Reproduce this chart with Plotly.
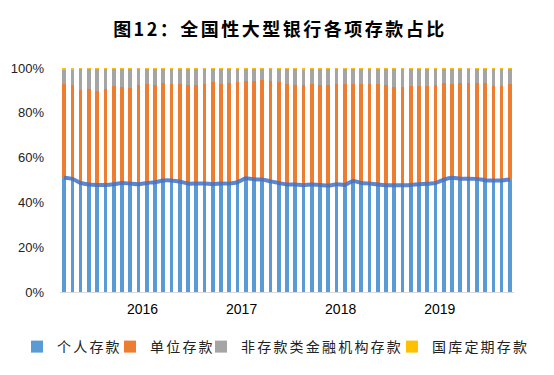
import plotly.graph_objects as go

# monthly categories (Sep 2015 – Mar 2020)
months = []
y, m = 2015, 9
for _ in range(55):
    months.append(f"{y}-{m:02d}")
    m += 1
    if m > 12:
        m = 1
        y += 1

year_labels = ["2016", "2017", "2018", "2019"]

personal = [51.0, 50.5, 48.7, 48.0, 47.8, 47.8, 48.1, 48.7, 48.4, 48.1,
            48.7, 49.0, 49.8, 49.8, 49.3, 48.4, 48.4, 48.4, 48.2, 48.4,
            48.4, 49.0, 50.8, 50.3, 50.2, 49.4, 48.7, 48.0, 48.0, 47.7,
            48.0, 47.8, 47.5, 48.1, 47.8, 49.6, 48.7, 48.4, 48.0, 47.7,
            47.7, 47.7, 47.8, 48.1, 48.3, 48.7, 50.2, 51.0, 50.6, 50.6,
            50.5, 49.9, 49.8, 49.8, 50.2]
unit = [41.8, 41.9, 41.4, 42.6, 41.9, 42.8, 43.8, 42.8, 42.6, 44.3,
        44.1, 43.4, 43.5, 43.0, 43.5, 44.0, 44.0, 44.4, 45.5, 44.4,
        44.9, 44.7, 43.4, 43.9, 44.4, 44.8, 45.0, 44.8, 44.4, 44.7,
        44.8, 44.6, 44.9, 44.7, 45.0, 43.2, 44.1, 44.4, 44.8, 44.7,
        43.9, 43.9, 44.1, 43.8, 43.6, 43.7, 43.1, 41.8, 42.7, 42.7,
        42.8, 43.4, 42.1, 42.1, 42.6]
nonbank = [6.5, 6.9, 9.6, 9.1, 10.0, 9.1, 7.8, 8.2, 8.7, 7.3,
           6.9, 7.3, 6.4, 6.9, 6.9, 7.3, 7.3, 6.9, 6.0, 6.9,
           6.4, 6.0, 5.5, 5.5, 5.1, 5.5, 6.0, 6.9, 7.3, 6.5,
           6.9, 7.3, 7.3, 6.9, 6.9, 6.9, 6.9, 6.9, 6.9, 7.3,
           8.1, 8.1, 7.8, 7.8, 7.8, 7.3, 6.4, 6.9, 6.4, 6.4,
           6.4, 6.4, 7.8, 7.8, 6.9]
treasury = [0.7, 0.7, 0.3, 0.3, 0.3, 0.3, 0.3, 0.3, 0.3, 0.3,
            0.3, 0.3, 0.3, 0.3, 0.3, 0.3, 0.3, 0.3, 0.3, 0.3,
            0.3, 0.3, 0.3, 0.3, 0.3, 0.3, 0.3, 0.3, 0.3, 1.1,
            0.3, 0.3, 0.3, 0.3, 0.3, 0.3, 0.3, 0.3, 0.3, 0.3,
            0.3, 0.3, 0.3, 0.3, 0.3, 0.3, 0.3, 0.3, 0.3, 0.3,
            0.3, 0.3, 0.3, 0.3, 0.3]

names = ["个人存款", "单位存款", "非存款类金融机构存款", "国库定期存款"]
colors = ["#5B9BD5", "#ED7D31", "#A5A5A5", "#FFC000"]
series = [personal, unit, nonbank, treasury]

x = list(range(len(months)))
tickvals = []
for yl in year_labels:
    idx = [i for i, mo in enumerate(months) if mo.startswith(yl)]
    tickvals.append(sum(idx) / len(idx))

CJK = "Noto Sans CJK SC"
LAT = "Liberation Sans, Noto Sans CJK SC"

# the page body adds an 8px margin; lay the figure out in shifted coordinates
PAD = 8
W, H = 554 - PAD, 375 - PAD

legend_ids = ["legend", "legend2", "legend3", "legend4"]
legend_left_px = [17 - PAD, 110 - PAD, 201 - PAD, 392 - PAD]

fig = go.Figure()
for name, col, vals, lid in zip(names, colors, series, legend_ids):
    fig.add_trace(go.Bar(
        x=x, y=vals, name=f'<span style="letter-spacing:2.2px">{name}</span>',
        marker=dict(color=col, line=dict(width=0)),
        hovertext=months, legend=lid,
    ))
fig.add_trace(go.Scatter(
    x=x, y=personal, mode="lines", showlegend=False,
    line=dict(color="#4472C4", width=4, shape="spline", smoothing=0.6),
    opacity=0.85, hoverinfo="skip",
))

legend_style = dict(
    orientation="h", xref="container", yref="container",
    xanchor="left", y=1 - (347 - PAD) / H, yanchor="middle",
    font=dict(family=CJK, size=14, color="#222222"),
    itemwidth=30, bgcolor="rgba(0,0,0,0)", borderwidth=0,
)
legends = {}
for lid, lx in zip(legend_ids, legend_left_px):
    legends[lid] = dict(legend_style, x=lx / W)

plot_left, plot_right, plot_top, plot_bottom = 60 - PAD, 514 - PAD, 68 - PAD, 292 - PAD

fig.update_layout(
    barmode="stack",
    bargap=0.55,
    width=W, height=H,
    paper_bgcolor="white", plot_bgcolor="white",
    margin=dict(l=plot_left, r=W - plot_right, t=plot_top, b=H - plot_bottom,
                autoexpand=False),
    title=dict(
        text='<span style="letter-spacing:2.5px"><b>图12：全国性大型银行各项存款占比</b></span>',
        font=dict(family=CJK, size=18, color="#000000"),
        x=(280 - PAD) / W, xanchor="center", y=1 - (30 - PAD) / H, yanchor="middle",
    ),
    xaxis=dict(
        range=[-0.5, len(months) - 0.5],
        tickmode="array", tickvals=tickvals, ticktext=year_labels,
        ticks="", showgrid=False, zeroline=False, automargin=False,
        showline=True, linecolor="#D9D9D9", linewidth=1,
        tickfont=dict(family=LAT, size=14, color="#000000"),
        ticklabelstandoff=4,
    ),
    yaxis=dict(
        range=[0, 100], dtick=20, ticksuffix="%", automargin=False,
        showgrid=False, zeroline=False, showline=False, ticks="",
        tickfont=dict(family=LAT, size=13, color="#222222"),
        ticklabelstandoff=15,
    ),
    showlegend=True,
    **legends,
)

fig.write_html("out.html")
